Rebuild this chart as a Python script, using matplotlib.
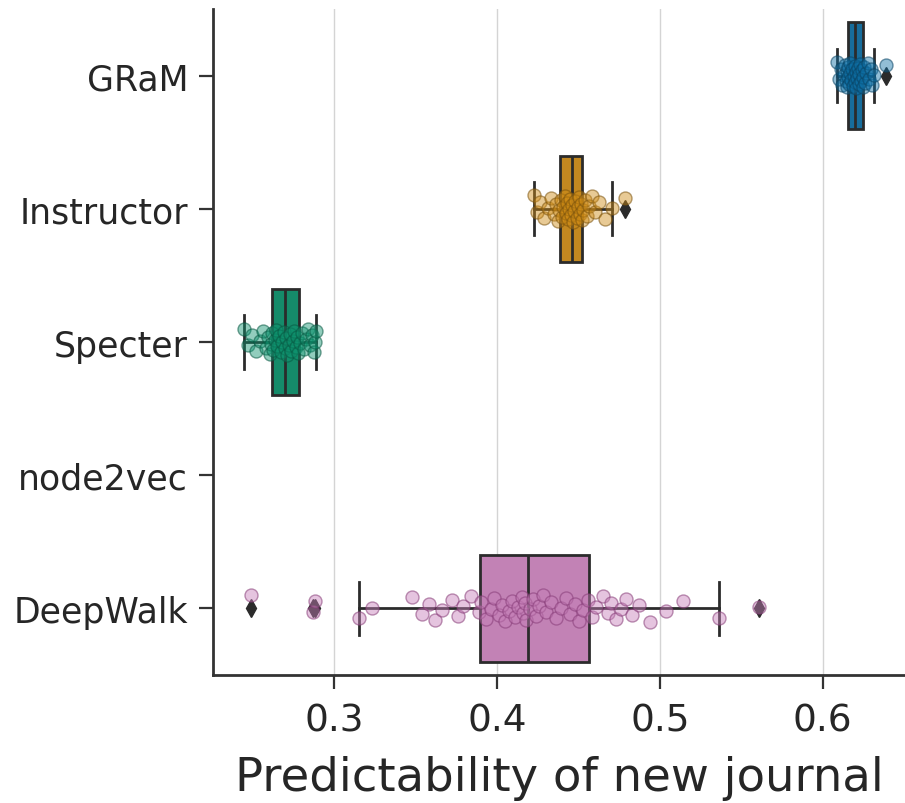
import colorsys
import numpy as np
import matplotlib
matplotlib.use("Agg")
import matplotlib.pyplot as plt
from matplotlib import colors as mcolors

methods = ["GRaM", "Instructor", "Specter", "node2vec", "DeepWalk"]
palette = ["#0173b2", "#de8f05", "#029e73", "#d55e00", "#cc78bc"]

gram = [0.6088, 0.6100, 0.6110, 0.6120, 0.6128, 0.6135, 0.6141, 0.6146, 0.6150, 0.6153,
        0.6156, 0.6160, 0.6165, 0.6170, 0.6175, 0.6180, 0.6185, 0.6190, 0.6195, 0.6198,
        0.6202, 0.6206, 0.6210, 0.6215, 0.6220, 0.6225, 0.6230, 0.6235, 0.6240, 0.6244,
        0.6248, 0.6253, 0.6260, 0.6268, 0.6276, 0.6285, 0.6295, 0.6305, 0.6315, 0.6390]

instructor = [0.4224, 0.4245, 0.4265, 0.4290, 0.4310, 0.4330, 0.4348, 0.4362, 0.4372, 0.4380,
              0.4390, 0.4398, 0.4406, 0.4414, 0.4421, 0.4428, 0.4436, 0.4443, 0.4450, 0.4455,
              0.4461, 0.4467, 0.4474, 0.4481, 0.4488, 0.4495, 0.4502, 0.4509, 0.4515, 0.4522,
              0.4530, 0.4540, 0.4552, 0.4565, 0.4580, 0.4600, 0.4625, 0.4660, 0.4704, 0.4784]

specter = [0.2447, 0.2470, 0.2495, 0.2520, 0.2545, 0.2565, 0.2580, 0.2594, 0.2603, 0.2610,
           0.2617, 0.2625, 0.2633, 0.2642, 0.2651, 0.2660, 0.2670, 0.2680, 0.2688, 0.2695,
           0.2703, 0.2711, 0.2720, 0.2728, 0.2736, 0.2745, 0.2754, 0.2763, 0.2772, 0.2780,
           0.2790, 0.2800, 0.2812, 0.2825, 0.2838, 0.2850, 0.2862, 0.2873, 0.2882, 0.2890]

node2vec = []

deepwalk = [0.249, 0.287, 0.288, 0.315, 0.323, 0.348, 0.354, 0.358, 0.362, 0.366,
            0.372, 0.376, 0.379, 0.384, 0.389, 0.390, 0.393, 0.396, 0.398, 0.401,
            0.403, 0.405, 0.407, 0.409, 0.411, 0.413, 0.415, 0.416, 0.417, 0.418,
            0.420, 0.422, 0.424, 0.426, 0.428, 0.430, 0.433, 0.436, 0.439, 0.442,
            0.445, 0.448, 0.450, 0.453, 0.456, 0.458, 0.461, 0.465, 0.468, 0.470,
            0.473, 0.476, 0.479, 0.483, 0.487, 0.494, 0.504, 0.514, 0.536, 0.561]

series = [gram, instructor, specter, node2vec, deepwalk]
xticks = [0.3, 0.4, 0.5, 0.6]
xlabel = "Predictability of new journal"


def desaturate(color, prop):
    r, g, b = mcolors.to_rgb(color)
    h, l, s = colorsys.rgb_to_hls(r, g, b)
    return colorsys.hls_to_rgb(h, l, s * prop)


def darken(color, factor):
    r, g, b = mcolors.to_rgb(color)
    h, l, s = colorsys.rgb_to_hls(r, g, b)
    return colorsys.hls_to_rgb(h, l * factor, s)


plt.rcParams["font.family"] = ["DejaVu Sans"]
edge = "#2b2b2b"

fig = plt.figure(figsize=(9.05, 8.04), dpi=100)
ax = fig.add_axes([213 / 905, 1 - 676 / 804, 1 - 213 / 905, (676 - 10) / 804])

ax.grid(axis="x", color="#d4d4d4", linewidth=1.0, zorder=0)
ax.set_axisbelow(True)

for i, (vals, col) in enumerate(zip(series, palette)):
    if not vals:
        continue
    face = desaturate(col, 0.75)
    ax.boxplot([vals], positions=[i], widths=0.8, orientation="horizontal",
               patch_artist=True, capwidths=0.4, manage_ticks=False,
               boxprops=dict(facecolor=face, edgecolor=edge, linewidth=2.0),
               medianprops=dict(color=edge, linewidth=2.0),
               whiskerprops=dict(color=edge, linewidth=2.0),
               capprops=dict(color=edge, linewidth=2.0),
               flierprops=dict(marker="d", markersize=9, markerfacecolor=edge,
                               markeredgecolor=edge, linestyle="none"),
               zorder=2)
    # deterministic low-discrepancy jitter across the category band
    n = len(vals)
    offs = (((np.arange(n) * 0.6180339887) % 1.0) - 0.5) * 0.2
    pt = desaturate(col, 0.85)
    ax.scatter(vals, i + offs, s=88, color=mcolors.to_rgba(pt, 0.45),
               edgecolors=mcolors.to_rgba(darken(pt, 0.6), 0.55), linewidths=1.0,
               zorder=3)

ax.set_ylim(4.5, -0.5)
ax.set_xlim(0.2255, 0.6505)
ax.set_yticks(range(len(methods)))
ax.set_yticklabels(methods)
ax.set_xticks(xticks)
ax.set_xticklabels([f"{t:.1f}" for t in xticks])
ax.set_xlabel(xlabel, fontsize=33.5, color="#262626", labelpad=12)

ax.tick_params(axis="x", labelsize=27, length=10, width=1.6, colors="#333333",
               labelcolor="#262626", pad=10)
ax.tick_params(axis="y", labelsize=25, length=10, width=1.6, colors="#333333",
               labelcolor="#262626", pad=8)
for side in ("top", "right"):
    ax.spines[side].set_visible(False)
for side in ("left", "bottom"):
    ax.spines[side].set_linewidth(2.0)
    ax.spines[side].set_color("#333333")

fig.savefig("out.png", dpi=100)
